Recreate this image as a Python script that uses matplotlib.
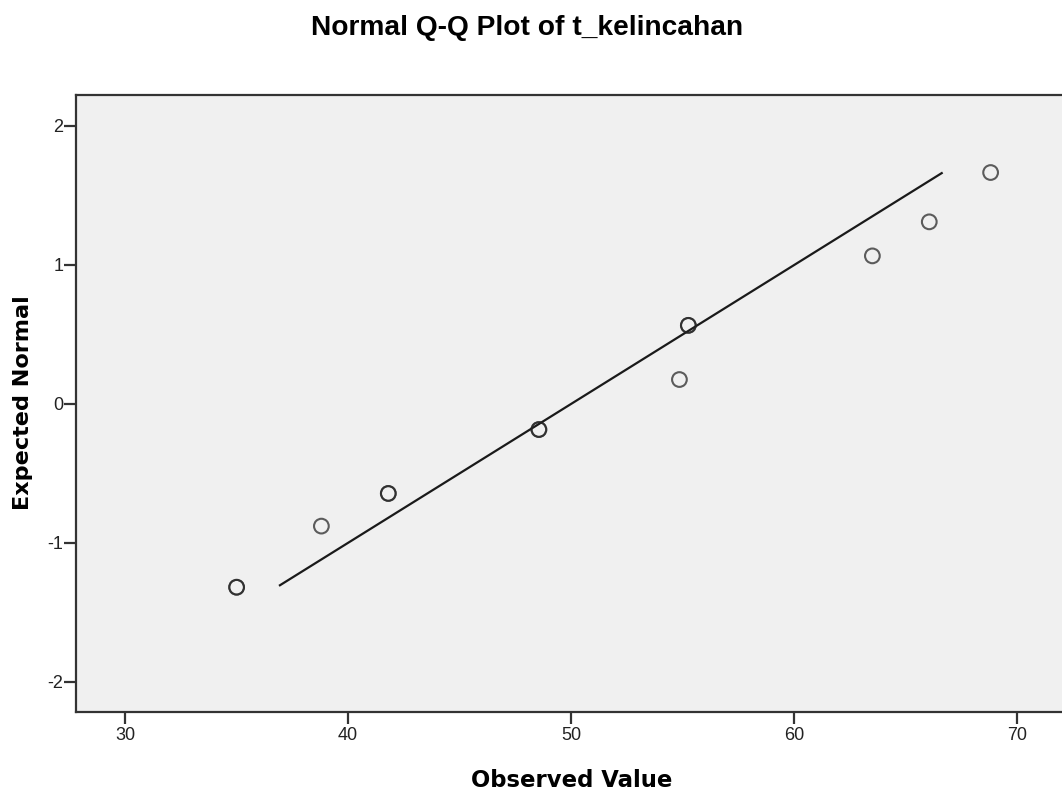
import matplotlib
matplotlib.use("Agg")
import matplotlib.pyplot as plt

# Data
observed = [35.0, 35.0, 38.8, 41.8, 41.8, 48.55, 48.55, 54.85, 55.25, 55.25, 63.5, 66.05, 68.8]
expected = [-1.32, -1.32, -0.88, -0.645, -0.645, -0.185, -0.185, 0.175, 0.565, 0.565, 1.065, 1.31, 1.665]
line_x = [36.9, 66.65]
line_mean = 50.0
line_sd = 10.0
x_ticks = [30, 40, 50, 60, 70]
y_ticks = [-2, -1, 0, 1, 2]

plt.rcParams['font.family'] = ['Liberation Sans', 'DejaVu Sans']
plt.rcParams['axes.unicode_minus'] = False

W, H = 1062, 791
fig = plt.figure(figsize=(W / 100, H / 100), dpi=100)
ax = fig.add_axes([76 / W, 1 - 712 / H, 1 - 76 / W, (712 - 95) / H])
ax.set_facecolor('#f0f0f0')

line_y = [(v - line_mean) / line_sd for v in line_x]
ax.plot(line_x, line_y, color='#1a1a1a', lw=1.6, solid_capstyle='butt', zorder=2)
ax.scatter(observed, expected, s=112, facecolors='none', edgecolors='#222222',
           linewidths=1.5, alpha=0.72, zorder=3)

ax.set_xlim(27.8, 72.0)
ax.set_ylim(-2.218, 2.223)
ax.set_xticks(x_ticks)
ax.set_yticks(y_ticks)
ax.tick_params(axis='both', direction='out', length=8.5, width=1.6, color='#333333',
               labelsize=13, labelcolor='#222222')
ax.tick_params(axis='x', pad=2)
ax.tick_params(axis='y', pad=0.5)
for s in ['left', 'bottom', 'top']:
    ax.spines[s].set_linewidth(1.6)
    ax.spines[s].set_color('#333333')
ax.spines['right'].set_visible(False)

title = fig.text(527.5 / W, 1 - 35 / H, 'Normal Q-Q Plot of t_kelincahan',
                 fontsize=20, fontweight='bold', ha='center', va='baseline')
xl = fig.text(571.5 / W, 1 - 787 / H, 'Observed Value', fontsize=19,
              fontweight='bold', ha='center', va='baseline', family=['DejaVu Sans'])
yl = fig.text(23 / W, 1 - 402.5 / H, 'Expected Normal', fontsize=19, rotation=90,
              fontweight='bold', ha='center', va='center', family=['DejaVu Sans'])

# fit text widths to the reference
fig.canvas.draw()
r = fig.canvas.get_renderer()
for t, target, horiz in [(title, 431, True), (xl, 201, True), (yl, 215, False)]:
    bb = t.get_window_extent(r)
    cur = bb.width if horiz else bb.height
    t.set_fontsize(t.get_fontsize() * target / cur)

fig.savefig('out.png', dpi=100)
